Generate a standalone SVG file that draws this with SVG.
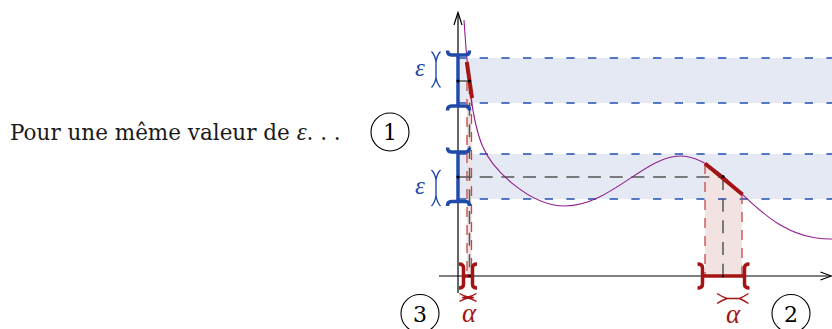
<svg xmlns="http://www.w3.org/2000/svg" width="832" height="329" viewBox="0 0 832 329">
<style>
.band{fill:#e4e9f4}
.rfill{fill:#f3e2e2}
.bdash{stroke:#1f4fb5;stroke-width:1.3;stroke-dasharray:8.3 13.37;fill:none}
.gdash{stroke:#555;stroke-width:1.5;stroke-dasharray:13 8.67;fill:none}
.rdash{stroke:#c44848;stroke-width:1.3;stroke-dasharray:10 8;fill:none}
.axis{stroke:#000;stroke-width:1.2;fill:none}
.curve{stroke:#8f1f8f;stroke-width:1.1;fill:none}
.rseg{stroke:#a51414;stroke-width:4;fill:none}
.bbr{stroke:#1f4aa8;stroke-width:3.5;fill:none}
.rbr{stroke:#a51414;stroke-width:3.5;fill:none}
.barw{stroke-width:1.4;fill:none}
.dot{fill:#000}
.circ{fill:none;stroke:#000;stroke-width:1.1}
.num{font-family:"DejaVu Serif","Liberation Serif",serif;font-size:22px;text-anchor:middle;fill:#000}
.eps{font-family:"Liberation Serif","DejaVu Serif",serif;font-style:italic;font-size:25px;text-anchor:middle;fill:#1f4aa8}
.alp{font-family:"Liberation Serif","DejaVu Serif",serif;font-style:italic;font-size:27px;text-anchor:middle;fill:#a51414}
.main{font-family:"DejaVu Serif","Liberation Serif",serif;font-size:21.5px;fill:#1a1a1a}
</style>
<g id="bands">
<rect class="band" x="460" y="58" width="372" height="45"/>
<rect class="band" x="460" y="154" width="372" height="45"/>
</g>
<g id="red-regions">
<polygon class="rfill" points="467,63 471.5,96 471.5,276 467,276"/>
<polygon class="rfill" points="705,164 742,194 742,276 705,276"/>
</g>
<g id="connectors">
<line class="bdash" x1="458" y1="58" x2="832" y2="58"/>
<line class="bdash" x1="458" y1="103" x2="832" y2="103"/>
<line class="bdash" x1="458" y1="154" x2="832" y2="154"/>
<line class="bdash" x1="458" y1="199" x2="832" y2="199"/>
<line class="rdash" x1="467" y1="63" x2="467" y2="276"/>
<line class="rdash" x1="471.5" y1="96" x2="471.5" y2="276"/>
<line class="rdash" x1="705" y1="164" x2="705" y2="276"/>
<line class="rdash" x1="742" y1="194" x2="742" y2="276"/>
<line class="gdash" x1="458" y1="81" x2="469.5" y2="81"/>
<line class="gdash" x1="469.5" y1="81" x2="469.5" y2="276"/>
<line class="gdash" x1="458" y1="177" x2="723" y2="177"/>
<line class="gdash" x1="723" y1="177" x2="723" y2="276"/>
</g>
<g id="axes">
<line class="axis" x1="458" y1="293" x2="458" y2="13.5"/>
<path class="axis" d="M454,25 Q456.5,17 458,12.5 Q459.5,17 462,25"/>
<line class="axis" x1="439" y1="276" x2="831" y2="276"/>
<path class="axis" d="M820.5,272 Q827,274.5 831.5,276 Q827,277.5 820.5,280"/>
</g>
<g id="curve">
<path class="curve" d="M464,20 C468,80 472,120 482,145 C492,170 530,206 565,206 C610,206 645,156 680,156 C695,156 710,165 723,176 C750,200 780,240 832,239"/>
</g>
<g id="red-segments">
<line class="rseg" x1="466.8" y1="62" x2="472" y2="98"/>
<line class="rseg" x1="705" y1="163.5" x2="742.5" y2="194.5"/>
</g>
<g id="eps-interval-top">
<line class="bbr" x1="458" y1="55" x2="458" y2="106"/>
<path class="bbr" d="M447.5,50.5 Q447.5,55 451.5,55 L465.5,55 Q469.5,55 469.5,50.5"/>
<path class="bbr" d="M447.5,110.5 Q447.5,106 451.5,106 L465.5,106 Q469.5,106 469.5,110.5"/>
</g>
<g id="eps-interval-bottom">
<line class="bbr" x1="458" y1="152" x2="458" y2="201.5"/>
<path class="bbr" d="M447.5,147.5 Q447.5,152 451.5,152 L465.5,152 Q469.5,152 469.5,147.5"/>
<path class="bbr" d="M447.5,206 Q447.5,201.5 451.5,201.5 L465.5,201.5 Q469.5,201.5 469.5,206"/>
</g>
<g id="alpha-interval-left">
<line class="rbr" x1="463.5" y1="276" x2="472.5" y2="276"/>
<path class="rbr" d="M459,264 Q463.5,264 463.5,268 L463.5,284 Q463.5,288 459,288"/>
<path class="rbr" d="M477,264 Q472.5,264 472.5,268 L472.5,284 Q472.5,288 477,288"/>
</g>
<g id="alpha-interval-right">
<line class="rbr" x1="702.5" y1="276" x2="744.5" y2="276"/>
<path class="rbr" d="M697.5,264 Q702.5,264 702.5,268 L702.5,284 Q702.5,288 697.5,288"/>
<path class="rbr" d="M749.5,264 Q744.5,264 744.5,268 L744.5,284 Q744.5,288 749.5,288"/>
</g>
<g id="dots">
<circle class="dot" cx="458" cy="81" r="1.6"/>
<circle class="dot" cx="469.5" cy="81" r="1.6"/>
<circle class="dot" cx="458" cy="177" r="1.6"/>
<circle class="dot" cx="723" cy="176.5" r="1.6"/>
<circle class="dot" cx="469.5" cy="276" r="1.3"/>
<circle class="dot" cx="723" cy="276" r="1.3"/>
</g>
<g id="eps-label-top">
<path class="barw" stroke="#1f4aa8" d="M431.5,51.5 Q435,55 436,62 Q437,55 440.5,51.5 M436,62 L436,77.5 M431.5,87.5 Q435,84 436,77.5 Q437,84 440.5,87.5"/>
<text class="eps" x="420" y="76">ε</text>
</g>
<g id="eps-label-bottom">
<path class="barw" stroke="#1f4aa8" d="M431.5,170 Q435,173.5 436,180 Q437,173.5 440.5,170 M436,180 L436,195.5 M431.5,206 Q435,202.5 436,195.5 Q437,202.5 440.5,206"/>
<text class="eps" x="420" y="194">ε</text>
</g>
<g id="alpha-label-left">
<path class="barw" stroke="#a51414" d="M459.5,293.5 Q464,296.5 470,297.5 Q464,298.5 459.5,301.5 M476.5,293.5 Q472,296.5 466,297.5 Q472,298.5 476.5,301.5 M462,297.5 L474,297.5"/>
<text class="alp" x="469" y="322">α</text>
</g>
<g id="alpha-label-right">
<path class="barw" stroke="#a51414" d="M717,293.5 Q721.5,296.5 727,298.5 Q721.5,300.5 717,303.5 M748.5,293.5 Q744,296.5 739.5,298.5 Q744,300.5 748.5,303.5 M727,298.5 L739.5,298.5"/>
<text class="alp" x="733" y="323">α</text>
</g>
<g id="step1">
<circle class="circ" cx="390" cy="132" r="19"/>
<text class="num" x="390" y="140">1</text>
</g>
<g id="step2">
<circle class="circ" cx="791" cy="313.5" r="19"/>
<text class="num" x="791" y="321.5">2</text>
</g>
<g id="step3">
<circle class="circ" cx="420" cy="313.5" r="19"/>
<text class="num" x="420" y="321.5">3</text>
</g>
<g id="caption">
<text class="main" x="10" y="140">Pour une même valeur de <tspan font-family="Liberation Serif, DejaVu Serif, serif" font-style="italic" font-size="25px">ε</tspan>. . .</text>
</g>
</svg>
